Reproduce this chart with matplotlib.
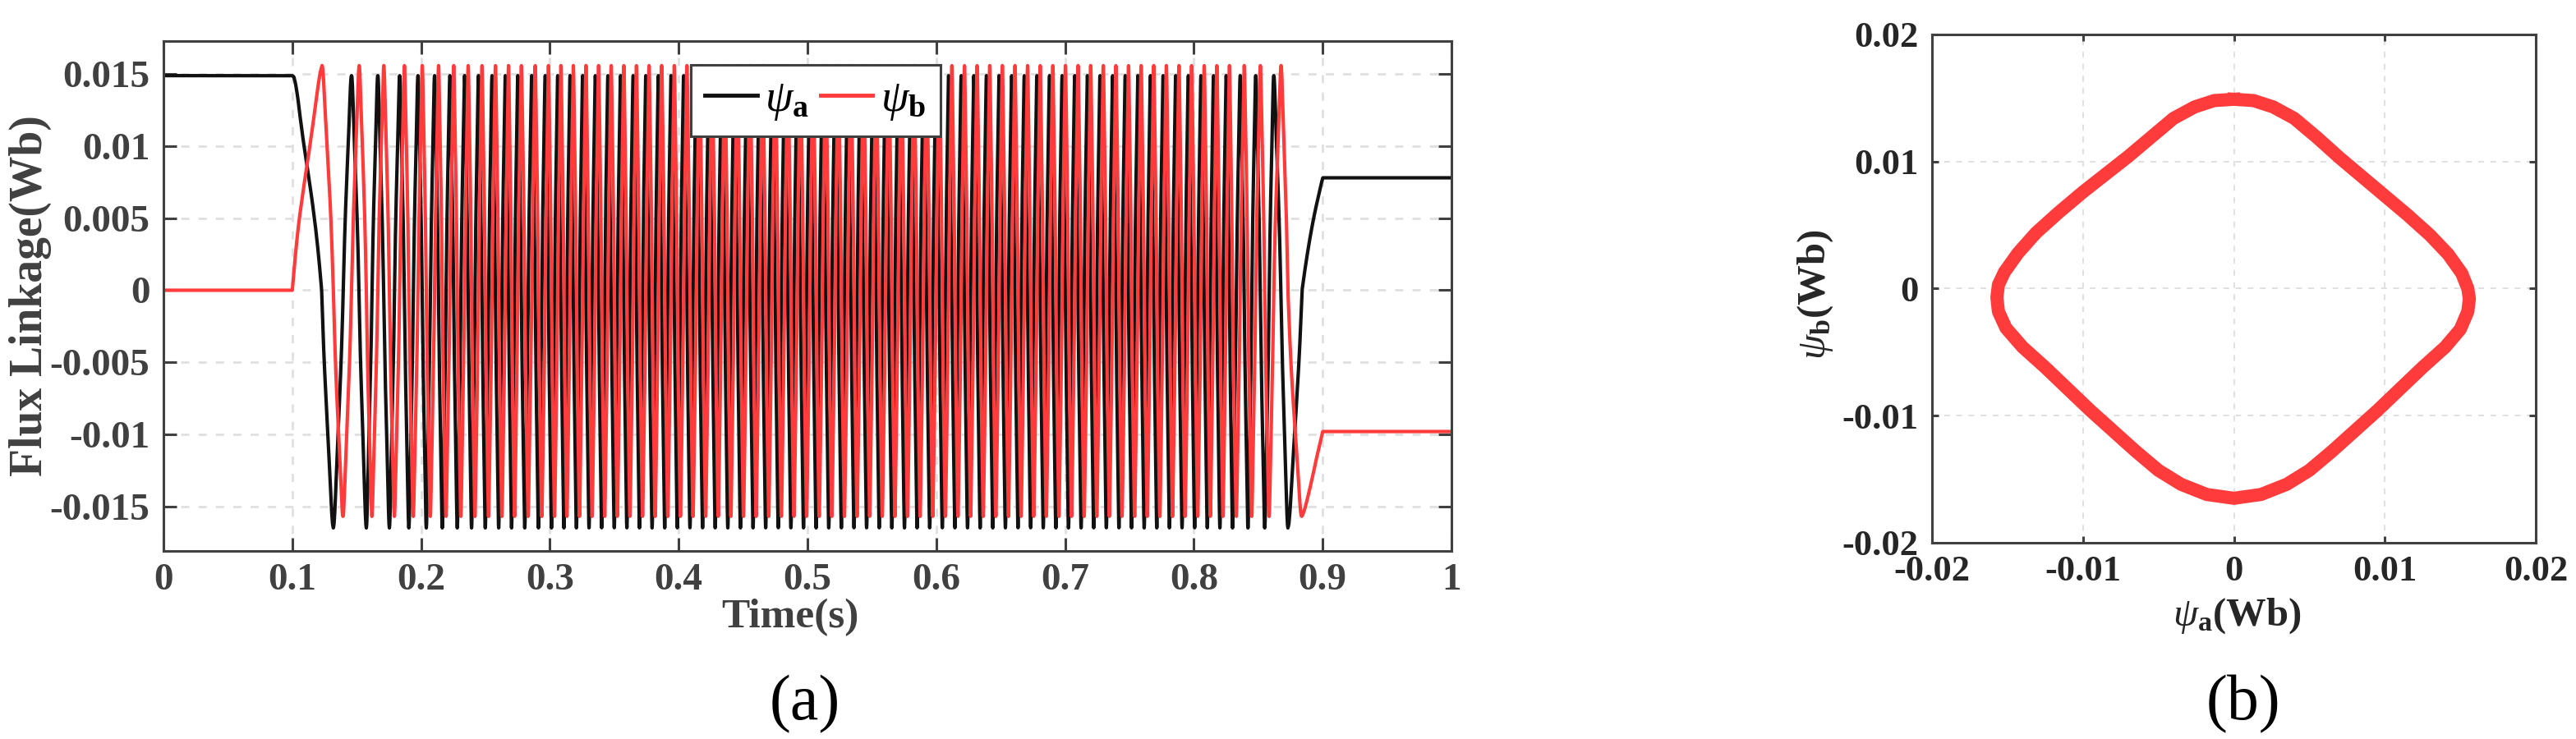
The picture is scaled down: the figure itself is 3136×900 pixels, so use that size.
import numpy as np
import matplotlib
matplotlib.use('Agg')
import matplotlib.pyplot as plt
from matplotlib.ticker import FixedLocator, FixedFormatter

plt.rcParams['font.family'] = 'Liberation Serif'
plt.rcParams['font.weight'] = 'bold'
plt.rcParams['mathtext.fontset'] = 'custom'
plt.rcParams['mathtext.rm'] = 'Liberation Serif:weight=bold'
plt.rcParams['mathtext.it'] = 'Liberation Serif:style=italic:weight=normal'
plt.rcParams['mathtext.bf'] = 'Liberation Serif:weight=bold'

# flux locus, going clockwise from the top
locus_psi_a = [0.0000, 0.0013, 0.0026, 0.0040, 0.0055, 0.0070, 0.0085, 0.0100,
               0.0115, 0.0130, 0.0142, 0.0151, 0.0155, 0.0156, 0.0155, 0.0150,
               0.0140, 0.0125, 0.0110, 0.0095, 0.0080, 0.0065, 0.0050, 0.0035,
               0.0018, 0.0000, -0.0018, -0.0035, -0.0050, -0.0065, -0.0080,
               -0.0095, -0.0110, -0.0125, -0.0140, -0.0151, -0.0156, -0.0157,
               -0.0156, -0.0152, -0.0143, -0.0131, -0.0116, -0.0100, -0.0085,
               -0.0070, -0.0055, -0.0040, -0.0026, -0.0013]
locus_psi_b = [0.0149, 0.0148, 0.0143, 0.0134, 0.0119, 0.0103, 0.0088, 0.0073,
               0.0058, 0.0042, 0.0027, 0.0012, 0.0000, -0.0008, -0.0018, -0.0032,
               -0.0046, -0.0062, -0.0079, -0.0096, -0.0112, -0.0128, -0.0143, -0.0154,
               -0.0162, -0.0165, -0.0162, -0.0154, -0.0143, -0.0128, -0.0112,
               -0.0096, -0.0079, -0.0062, -0.0046, -0.0031, -0.0018, -0.0007,
               0.0003, 0.0013, 0.0028, 0.0044, 0.0060, 0.0076, 0.0090,
               0.0104, 0.0119, 0.0134, 0.0143, 0.0148]

# position of the flux vector (turns from the top) at times
knot_time = [0.100, 0.1228, 0.1319, 0.1396, 0.1460, 0.1575, 0.1664, 0.1754, 0.1834,
             0.1976, 0.2105, 0.2224, 0.2338, 0.2446, 0.2551, 0.2654, 0.2751, 0.2859,
             0.2964, 0.3061, 0.3157, 0.830, 0.848, 0.862, 0.873, 0.884, 0.900]
knot_turns = [0, 0.25, 0.5, 0.75, 1, 1.5, 2, 2.5, 3,
              4, 5, 6, 7, 8, 9, 10, 11, 12,
              13, 14, 15, 67.5, 69, 70, 70.5, 70.75, 70.857]

time_ticks = [0, 0.1, 0.2, 0.3, 0.4, 0.5, 0.6, 0.7, 0.8, 0.9, 1]
time_tick_labels = ['0', '0.1', '0.2', '0.3', '0.4', '0.5', '0.6', '0.7', '0.8', '0.9', '1']
flux_ticks = [-0.015, -0.01, -0.005, 0, 0.005, 0.01, 0.015]
flux_tick_labels = ['-0.015', '-0.01', '-0.005', '0', '0.005', '0.01', '0.015']
locus_ticks = [-0.02, -0.01, 0, 0.01, 0.02]
locus_tick_labels = ['-0.02', '-0.01', '0', '0.01', '0.02']

RED = '#ff3b3b'
DARK = '#111111'
GRAY = '#404040'
GRID = '#e0e0e0'


# walk the flux vector round the locus to get both waveforms
def flux_waveforms():
    a = np.array(locus_psi_a)
    b = np.array(locus_psi_b)
    ang = np.mod(np.arctan2(a, b), 2 * np.pi)
    rad = np.hypot(a, b)
    order = np.argsort(ang)
    t = np.linspace(0, 1, 40001)
    theta = 2 * np.pi * np.interp(t, knot_time, knot_turns)
    r = np.interp(np.mod(theta, 2 * np.pi), ang[order], rad[order], period=2 * np.pi)
    return t, r * np.cos(theta), r * np.sin(theta)


def style_axes(ax, color, tick_len, grid_lw, size):
    ax.tick_params(direction='in', length=tick_len, width=2.2, top=True, right=True,
                   color=GRAY, labelcolor=color, labelsize=size)
    ax.tick_params(axis='x', pad=11)
    ax.tick_params(axis='y', pad=12)
    plt.setp(ax.get_xticklabels() + ax.get_yticklabels(), fontweight='bold')
    for s in ax.spines.values():
        s.set_linewidth(2.2)
        s.set_color(GRAY)
    ax.grid(True, color=GRID, lw=grid_lw, ls=(0, (3.6, 4.0)))
    ax.set_axisbelow(True)


fig = plt.figure(figsize=(31.36, 9), dpi=100)

# panel (a): flux linkage vs time
ax1 = fig.add_axes([0.06346, 0.25444, 0.5, 0.69])
t, psi_top, psi_side = flux_waveforms()
ax1.plot(t, psi_top, color=DARK, lw=3, label=r'$\psi_{\mathbf{a}}$')
ax1.plot(t, psi_side, color=RED, lw=3, label=r'$\psi_{\mathbf{b}}$')
ax1.set_xlim(0, 1)
ax1.set_ylim(-0.0181, 0.0173)
ax1.xaxis.set_major_locator(FixedLocator(time_ticks))
ax1.xaxis.set_major_formatter(FixedFormatter(time_tick_labels))
ax1.yaxis.set_major_locator(FixedLocator(flux_ticks))
ax1.yaxis.set_major_formatter(FixedFormatter(flux_tick_labels))
style_axes(ax1, GRAY, 11.5, 2.0, 34)
ax1.set_xlabel('Time(s)', fontsize=37, fontweight='bold', color=GRAY)
ax1.xaxis.set_label_coords(0.4866, -0.093)
ax1.set_ylabel('Flux Linkage(Wb)', fontsize=40, fontweight='bold', color=GRAY)
ax1.yaxis.set_label_coords(-0.087, 0.5)
leg = ax1.legend(loc='upper left', bbox_to_anchor=(0.4094, 0.953), ncol=2, fontsize=39,
                 frameon=True, fancybox=False, framealpha=1, edgecolor=GRAY,
                 handlelength=1.17, handletextpad=0.18, columnspacing=0.25,
                 borderpad=0.32, borderaxespad=0)
leg.get_frame().set_linewidth(2.2)
for line in leg.get_lines():
    line.set_linewidth(3.5)

# panel (b): flux locus
ax2 = fig.add_axes([0.75, 0.26556, 0.23438, 0.68778])
ax2.plot(locus_psi_a + locus_psi_a[:1], locus_psi_b + locus_psi_b[:1], color=RED,
         lw=11.5, solid_joinstyle='round')
ax2.set_xlim(-0.02, 0.02)
ax2.set_ylim(-0.02, 0.02)
ax2.xaxis.set_major_locator(FixedLocator(locus_ticks))
ax2.xaxis.set_major_formatter(FixedFormatter(locus_tick_labels))
ax2.yaxis.set_major_locator(FixedLocator(locus_ticks))
ax2.yaxis.set_major_formatter(FixedFormatter(locus_tick_labels))
style_axes(ax2, '#262626', 6, 1.4, 32)
ax2.set_xlabel(r'$\psi_{\mathbf{a}}$(Wb)', fontsize=35, fontweight='bold', color='#262626')
ax2.xaxis.set_label_coords(0.505, -0.105)
ax2.set_ylabel(r'$\psi_{\mathbf{b}}$(Wb)', fontsize=35, fontweight='bold', color='#262626')
ax2.yaxis.set_label_coords(-0.16, 0.488)

fig.text(0.3125, 0.047, '(a)', fontsize=56, fontweight='normal', ha='center', va='center')
fig.text(0.8709, 0.047, '(b)', fontsize=56, fontweight='normal', ha='center', va='center')

fig.savefig('out.png', dpi=100)
